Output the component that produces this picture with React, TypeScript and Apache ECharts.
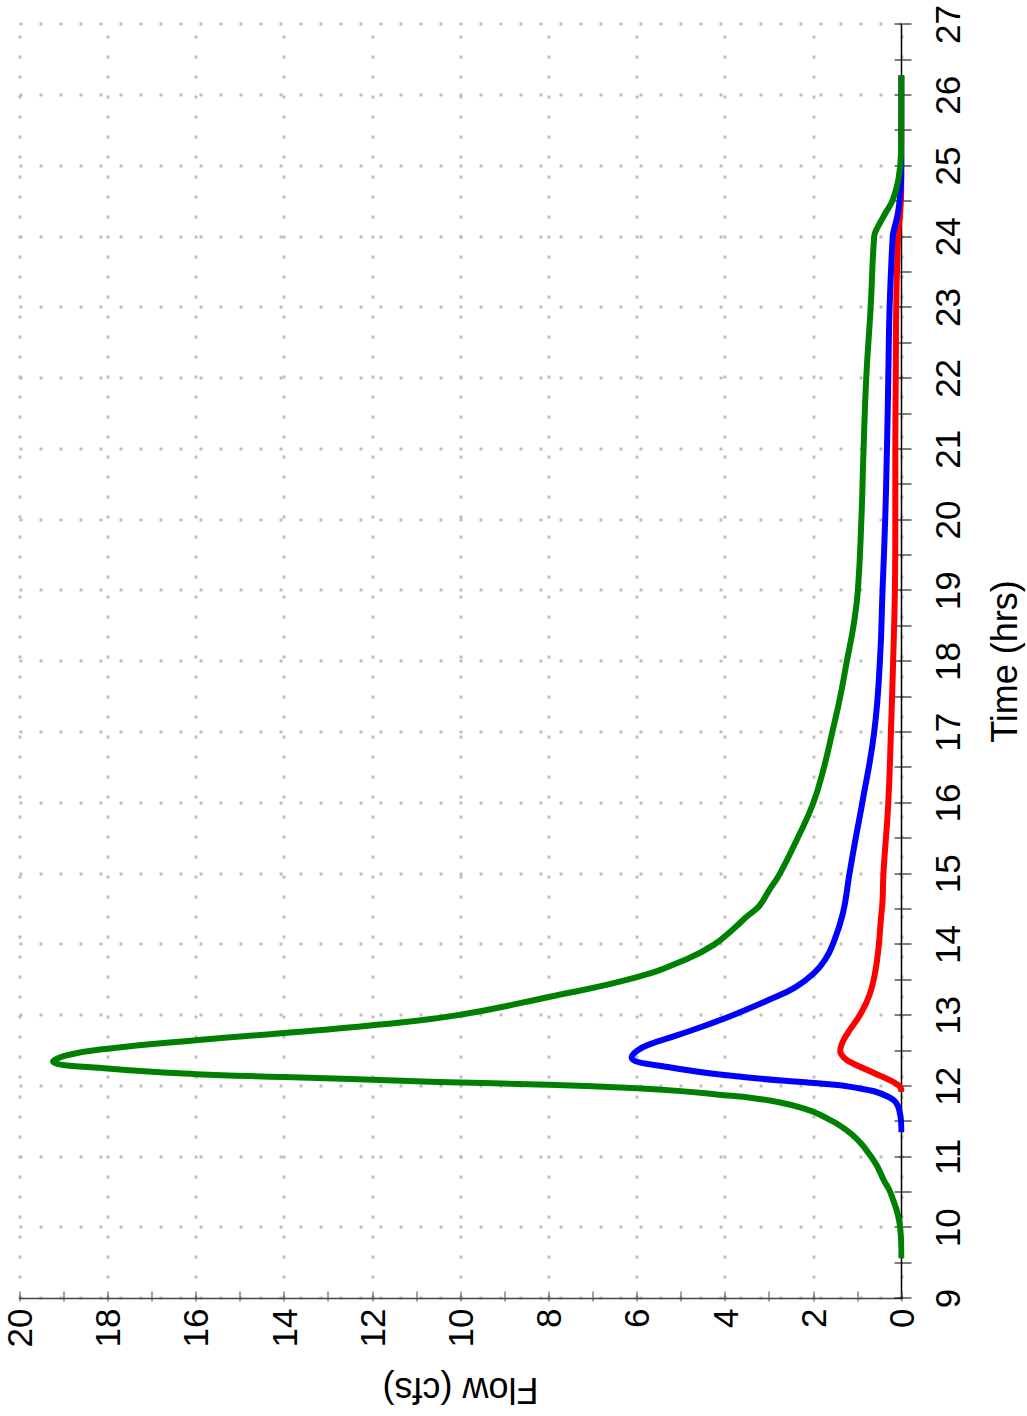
import React, { useEffect, useRef } from "react";
import * as echarts from "echarts";

// Time (hrs) / Flow (cfs)
const greenTime = [9.57, 10.0, 10.48, 10.67, 10.95, 11.33, 11.59, 11.7, 11.77, 11.83, 11.88, 11.93, 11.97, 12.02, 12.06, 12.1, 12.13, 12.17, 12.25, 12.35, 12.44, 12.53, 12.65, 12.75, 12.86, 13.0, 13.26, 13.54, 13.8, 14.0, 14.2, 14.4, 14.55, 14.75, 15.0, 15.5, 16.0, 16.5, 17.0, 17.5, 18.0, 18.5, 19.0, 20.0, 21.0, 22.0, 23.0, 24.0, 24.1, 24.34, 24.52, 24.81, 25.2, 26.28];
const greenFlow = [0, 0.03, 0.24, 0.4, 0.63, 1.15, 1.83, 2.3, 2.75, 3.35, 4.15, 5.0, 6.0, 8.0, 10.5, 12.5, 14.0, 16.0, 18.0, 19.24, 18.9, 18.0, 16.0, 14.0, 12.0, 10.1, 8.0, 6.0, 4.85, 4.25, 3.85, 3.5, 3.22, 3.02, 2.76, 2.36, 2.0, 1.76, 1.57, 1.39, 1.24, 1.09, 0.99, 0.91, 0.86, 0.8, 0.7, 0.62, 0.57, 0.36, 0.2, 0.07, 0.01, 0];

const blueTime = [11.35, 11.66, 11.85, 11.99, 12.04, 12.13, 12.27, 12.41, 12.5, 12.58, 12.72, 12.96, 13.21, 13.4, 13.6, 13.8, 14.0, 14.44, 15.0, 15.5, 16.0, 17.0, 18.0, 19.0, 20.0, 21.0, 22.0, 23.0, 24.0, 24.1, 24.34, 24.6, 25.0, 26.28];
const blueFlow = [0, 0.05, 0.3, 1.15, 1.9, 3.6, 5.3, 6.12, 6.0, 5.76, 5.08, 4.0, 3.04, 2.4, 1.98, 1.72, 1.56, 1.33, 1.18, 1.04, 0.89, 0.62, 0.49, 0.43, 0.37, 0.33, 0.3, 0.27, 0.2, 0.17, 0.08, 0.03, 0, 0];

const redTime = [11.92, 12.01, 12.18, 12.32, 12.4, 12.5, 12.6, 12.74, 13.03, 13.3, 13.6, 13.96, 14.34, 14.62, 15.0, 16.0, 17.0, 18.0, 19.0, 20.0, 21.0, 22.0, 23.0, 24.0, 24.1, 24.34, 24.8, 26.28];
const redFlow = [0, 0.06, 0.6, 1.1, 1.3, 1.39, 1.35, 1.23, 0.92, 0.72, 0.6, 0.52, 0.47, 0.43, 0.41, 0.3, 0.24, 0.19, 0.15, 0.14, 0.14, 0.13, 0.12, 0.08, 0.07, 0.03, 0, 0];

const timeName = "Time (hrs)";
const flowName = "Flow (cfs)";

const pairs = (t: number[], f: number[]) => t.map((v, i) => [v, f[i]]);

const FONT = "'Liberation Sans', Arial, Helvetica, sans-serif";

export default function App() {
  const ref = useRef<HTMLDivElement>(null);
  useEffect(() => {
    if (!ref.current) return;
    const chart = echarts.init(ref.current, undefined, { renderer: "svg" });
    const dotted = { color: "#bdbdbd", width: 3, type: [3, 17] as any, cap: "butt" };
    const lineSeries = (name: string, t: number[], f: number[], color: string, z: number) => ({
      type: "line",
      name,
      data: pairs(t, f),
      xAxisIndex: 0,
      yAxisIndex: 0,
      showSymbol: false,
      smooth: 0.45,
      lineStyle: { color, width: 6, join: "round", cap: "butt" },
      z,
    });
    chart.setOption({
      animation: false,
      backgroundColor: "#ffffff",
      grid: { left: 118, right: 24, top: 19, bottom: 126, containLabel: false },
      xAxis: [
        {
          type: "value",
          min: 9,
          max: 27,
          interval: 1,
          position: "bottom",
          name: timeName,
          nameLocation: "middle",
          nameGap: 85,
          nameTextStyle: { fontSize: 36, color: "#000", fontFamily: FONT },
          axisLine: { show: true, onZero: false, lineStyle: { color: "#000", width: 1.5 } },
          axisTick: { show: true, inside: false, length: 10, lineStyle: { color: "#000", width: 1 } },
          minorTick: { show: true, splitNumber: 2, length: 10, lineStyle: { color: "#000", width: 1 } },
          axisLabel: { fontSize: 35, color: "#000", margin: 28, fontFamily: FONT },
          splitLine: { show: true, lineStyle: dotted },
        },
        {
          type: "value",
          min: 9,
          max: 27,
          interval: 1,
          position: "bottom",
          axisLine: { show: false, onZero: false },
          axisTick: { show: true, inside: true, length: 7, lineStyle: { color: "#000", width: 1 } },
          minorTick: { show: true, splitNumber: 2, length: 7, lineStyle: { color: "#000", width: 1 } },
          axisLabel: { show: false },
          splitLine: { show: false },
        },
      ],
      yAxis: [
        {
          type: "value",
          min: 0,
          max: 20,
          interval: 2,
          position: "left",
          name: flowName,
          nameLocation: "middle",
          nameGap: 74,
          nameRotate: 90,
          nameTextStyle: { fontSize: 36, color: "#000", fontFamily: FONT },
          axisLine: { show: true, onZero: false, lineStyle: { color: "#444", width: 1.5 } },
          axisTick: { show: true, inside: false, length: 3, lineStyle: { color: "#444", width: 1 } },
          minorTick: { show: true, splitNumber: 2, length: 3, lineStyle: { color: "#444", width: 1 } },
          axisLabel: { fontSize: 35, color: "#000", margin: 10, fontFamily: FONT },
          splitLine: { show: true, lineStyle: dotted },
        },
        {
          type: "value",
          min: 0,
          max: 20,
          interval: 2,
          position: "left",
          axisLine: { show: false, onZero: false },
          axisTick: { show: true, inside: true, length: 7, lineStyle: { color: "#444", width: 1 } },
          minorTick: { show: true, splitNumber: 2, length: 7, lineStyle: { color: "#444", width: 1 } },
          axisLabel: { show: false },
          splitLine: { show: false },
        },
      ],
      series: [
        lineSeries("red", redTime, redFlow, "#ff0000", 3),
        lineSeries("blue", blueTime, blueFlow, "#0000ff", 4),
        lineSeries("green", greenTime, greenFlow, "#008000", 5),
      ],
    });
    return () => chart.dispose();
  }, []);

  return (
    <div style={{ position: "absolute", left: 0, top: 0, width: 1027, height: 1416, overflow: "hidden", background: "#fff" }}>
      <div
        ref={ref}
        style={{
          position: "absolute",
          width: 1416,
          height: 1027,
          left: -194.5,
          top: 194.5,
          transform: "rotate(-90deg)",
          transformOrigin: "50% 50%",
        }}
      />
    </div>
  );
}
